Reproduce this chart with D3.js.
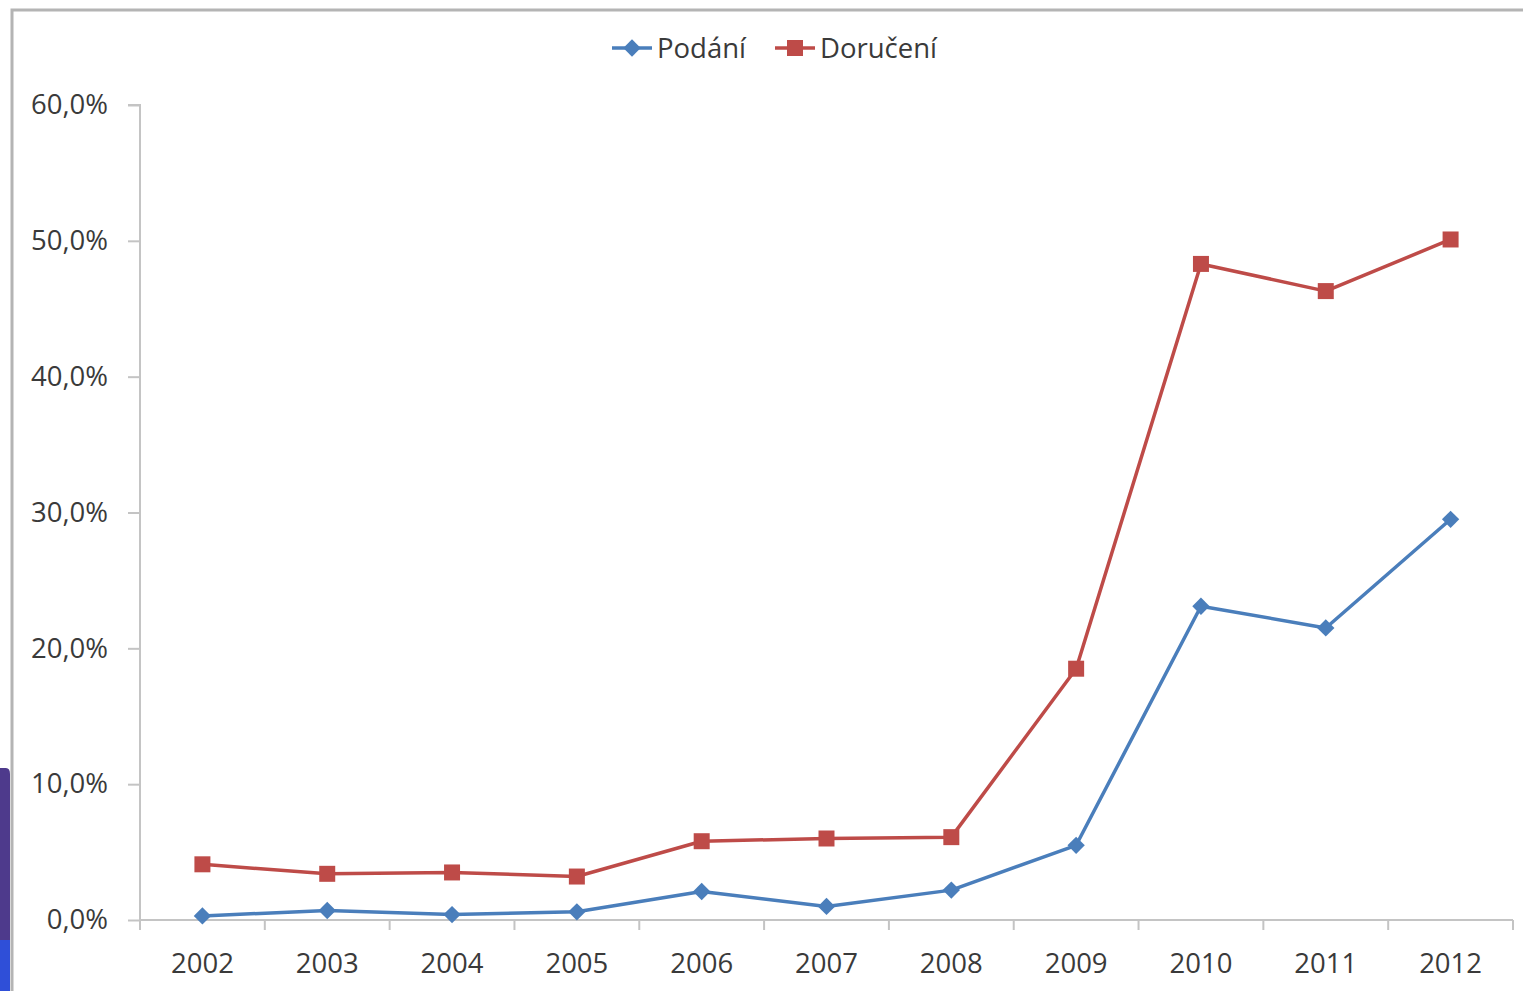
<!DOCTYPE html>
<html><head><meta charset="utf-8">
<script src="https://cdn.jsdelivr.net/npm/d3@7"></script>
<style>html,body{margin:0;padding:0;background:#fff;overflow:hidden}</style>
</head><body>
<svg id="c" width="1523" height="991"></svg>
<script>
const years = ["2002","2003","2004","2005","2006","2007","2008","2009","2010","2011","2012"];
const podani = [0.3, 0.7, 0.4, 0.6, 2.1, 1.0, 2.2, 5.5, 23.1, 21.5, 29.5];
const doruceni = [4.1, 3.4, 3.5, 3.2, 5.8, 6.0, 6.1, 18.5, 48.3, 46.3, 50.1];
const yTicks = [0, 10, 20, 30, 40, 50, 60];
const seriesNames = ["Podání", "Doručení"];
const seriesColors = ["#4a7ebb", "#be4b48"];

(function(){
const svg = d3.select("#c");
const font = "'Open Sans', 'Noto Sans', sans-serif";
const fs = 27.5;

// left decoration bar
svg.append("path").attr("d","M0,768 H6 Q10,768 10,774 V991 H0 Z").attr("fill","#4e3a8c");
svg.append("rect").attr("x",0).attr("y",940).attr("width",10).attr("height",51).attr("fill","#2f4fd8");

// chart frame
svg.append("path").attr("d","M12,991 V10 H1523").attr("fill","none").attr("stroke","#b4b4b4").attr("stroke-width",3);

const pL = 140, pR = 1513, pT = 105, pB = 920;
const x = d3.scaleBand().domain(years).range([pL, pR]);
const y = d3.scaleLinear().domain([0, 60]).range([pB, pT]);
const axisColor = "#c4c4c4";

// y axis
const ya = svg.append("g").attr("transform",`translate(${pL},0)`)
  .call(d3.axisLeft(y).tickValues(yTicks).tickSize(12).tickPadding(20)
    .tickFormat(d => d.toFixed(1).replace(".", ",") + "%"));
ya.select(".domain").attr("stroke", axisColor).attr("stroke-width", 2).attr("d", `M-12,${pT}H0V${pB}`);
ya.selectAll(".tick line").attr("stroke", axisColor).attr("stroke-width", 2);
ya.selectAll(".tick text").attr("font-family", font).attr("font-size", fs).attr("fill", "#3a3a3a");

// x axis
const xa = svg.append("g").attr("transform",`translate(0,${pB})`)
  .call(d3.axisBottom(x).tickSize(0).tickPadding(33));
xa.select(".domain").attr("stroke", axisColor).attr("stroke-width", 2).attr("d", `M${pL},0H${pR}`);
xa.selectAll(".tick text").attr("font-family", font).attr("font-size", fs).attr("fill", "#3a3a3a");
const bounds = years.map(yr => x(yr)).concat([pR]);
xa.selectAll(".bt").data(bounds).enter().append("line")
  .attr("x1", d => d).attr("x2", d => d).attr("y1", 0).attr("y2", 10)
  .attr("stroke", axisColor).attr("stroke-width", 2);

const cx = d => x(d) + x.bandwidth() / 2;
const data = [podani, doruceni];
const line = d3.line().x((d, i) => cx(years[i])).y(d => y(d));
const sym = [d3.symbol().type(d3.symbolSquare).size(150), d3.symbol().type(d3.symbolSquare).size(256)];
const rot = [45, 0];

data.forEach((vals, s) => {
  svg.append("path").datum(vals).attr("d", line).attr("fill", "none")
    .attr("stroke", seriesColors[s]).attr("stroke-width", 3.5).attr("stroke-linejoin","round");
  svg.selectAll(".m" + s).data(vals).enter().append("path")
    .attr("transform", (d, i) => `translate(${cx(years[i])},${y(d)}) rotate(${rot[s]})`)
    .attr("d", sym[s]).attr("fill", seriesColors[s]);
});

// legend
const legX = [612, 775];
seriesNames.forEach((n, s) => {
  const g = svg.append("g").attr("transform", `translate(${legX[s]},48)`);
  g.append("line").attr("x1", 0).attr("x2", 40).attr("stroke", seriesColors[s]).attr("stroke-width", 3.5);
  g.append("path").attr("transform", `translate(20,0) rotate(${rot[s]})`).attr("d", sym[s]).attr("fill", seriesColors[s]);
  g.append("text").attr("x", 45).attr("y", 10).text(n).attr("font-family", font).attr("font-size", fs).attr("fill", "#3a3a3a");
});
})();
</script>
</body></html>
